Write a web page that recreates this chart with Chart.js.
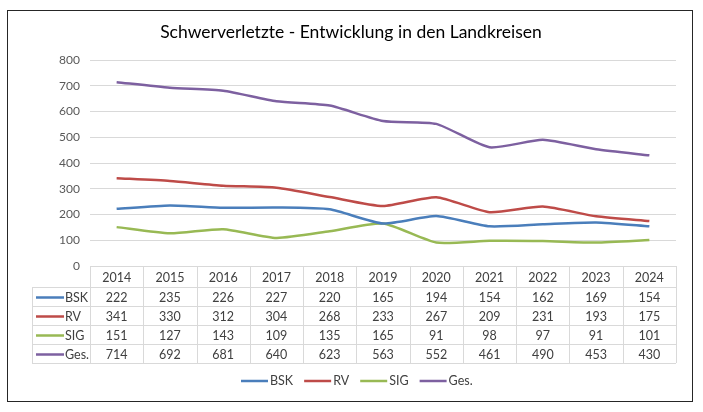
<!DOCTYPE html>
<html>
<head>
<meta charset="utf-8">
<script src="https://cdn.jsdelivr.net/npm/chart.js@4"></script>
<style>
  body { margin: 0; background: #fff; }
  #wrap { width: 703px; height: 412px; }
</style>
</head>
<body>
<div id="wrap"><canvas id="myLineChart" width="703" height="412"></canvas></div>
<script>
  const years = ['2014', '2015', '2016', '2017', '2018', '2019', '2020', '2021', '2022', '2023', '2024'];
  const bsk = [222, 235, 226, 227, 220, 165, 194, 154, 162, 169, 154];
  const rv = [341, 330, 312, 304, 268, 233, 267, 209, 231, 193, 175];
  const sig = [151, 127, 143, 109, 135, 165, 91, 98, 97, 91, 101];
  const ges = [714, 692, 681, 640, 623, 563, 552, 461, 490, 453, 430];
  const names = ['BSK', 'RV', 'SIG', 'Ges.'];
  const colors = ['#4a7ebb', '#be4b48', '#98b954', '#7d60a0'];

  const fontName = 'Lato, "Open Sans", sans-serif';

  // border, title, data table and legend like the excel original
  const tablePlugin = {
    id: 'tablePlugin',
    afterDraw(chart) {
      const ctx = chart.ctx;
      const x = chart.scales.x;
      const area = chart.chartArea;
      const colW = (area.right - area.left) / years.length;
      const rows = [area.bottom, 287, 306, 325, 344, 363];
      const labelLeft = 32;

      ctx.save();
      ctx.strokeStyle = '#262626';
      ctx.lineWidth = 1;
      ctx.strokeRect(7.5, 10.5, 685, 391);

      ctx.fillStyle = '#000';
      ctx.font = '17.5px ' + fontName;
      ctx.textAlign = 'center';
      ctx.textBaseline = 'middle';
      ctx.fillText('Schwerverletzte - Entwicklung in den Landkreisen', 351, 32);

      // table grid
      ctx.strokeStyle = '#d9d9d9';
      ctx.beginPath();
      for (let k = 0; k <= years.length; k++) {
        const px = Math.round(area.left + k * colW) + 0.5;
        ctx.moveTo(px, rows[0]);
        ctx.lineTo(px, rows[5]);
      }
      ctx.moveTo(labelLeft + 0.5, rows[1]);
      ctx.lineTo(labelLeft + 0.5, rows[5]);
      for (let r = 1; r < rows.length; r++) {
        ctx.moveTo(labelLeft, rows[r] + 0.5);
        ctx.lineTo(area.right, rows[r] + 0.5);
      }
      ctx.stroke();

      ctx.font = '12.5px ' + fontName;
      ctx.fillStyle = '#404040';
      years.forEach((y, i) => {
        ctx.fillText(y, x.getPixelForValue(i), (rows[0] + rows[1]) / 2 + 1);
      });
      chart.data.datasets.forEach((ds, r) => {
        const cy = (rows[r + 1] + rows[r + 2]) / 2 + 1;
        ds.data.forEach((v, i) => {
          ctx.fillText(String(v), x.getPixelForValue(i), cy);
        });
        ctx.strokeStyle = ds.borderColor;
        ctx.lineWidth = 2.5;
        ctx.beginPath();
        ctx.moveTo(36, cy);
        ctx.lineTo(64, cy);
        ctx.stroke();
        ctx.textAlign = 'left';
        ctx.fillText(ds.label, 65, cy);
        ctx.textAlign = 'center';
      });

      // legend
      ctx.textAlign = 'left';
      let lx = 241;
      chart.data.datasets.forEach((ds) => {
        ctx.strokeStyle = ds.borderColor;
        ctx.lineWidth = 2.5;
        ctx.beginPath();
        ctx.moveTo(lx, 381);
        ctx.lineTo(lx + 27, 381);
        ctx.stroke();
        ctx.fillText(ds.label, lx + 29, 381);
        lx += 29 + ctx.measureText(ds.label).width + 11;
      });
      ctx.restore();
    }
  };

  const data = {
    labels: years,
    datasets: [bsk, rv, sig, ges].map((vals, i) => ({
      label: names[i],
      data: vals,
      borderColor: colors[i],
      backgroundColor: colors[i],
      borderWidth: 2.5,
      pointRadius: 0,
      tension: 0.2,
      fill: false
    }))
  };

  const config = {
    type: 'line',
    data,
    options: {
      responsive: false,
      animation: false,
      layout: { padding: { left: 0, right: 27, top: 60, bottom: 146 } },
      plugins: {
        legend: { display: false },
        tooltip: { enabled: false }
      },
      scales: {
        x: { display: false, offset: true },
        y: {
          min: 0,
          max: 800,
          afterFit(scale) { scale.width = 90; },
          border: { display: false },
          grid: { color: '#d9d9d9', drawTicks: false },
          ticks: {
            stepSize: 100,
            padding: 10,
            color: '#595959',
            font: { family: fontName, size: 12 }
          }
        }
      }
    },
    plugins: [tablePlugin]
  };

  var myChart = new Chart(document.getElementById('myLineChart'), config);
</script>
</body>
</html>
